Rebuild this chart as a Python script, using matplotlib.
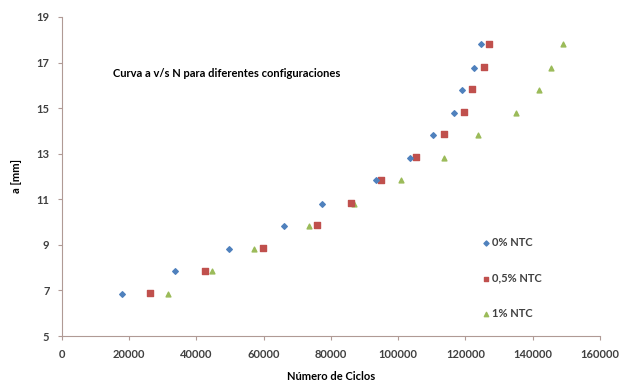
import matplotlib
matplotlib.use("Agg")
import matplotlib.pyplot as plt

plt.rcParams['font.family'] = ['Lato', 'DejaVu Sans']

a_levels = [6.85, 7.85, 8.83, 9.83, 10.8, 11.84, 12.82, 13.82, 14.8, 15.8, 16.77, 17.8]
a_red = [6.87, 7.87, 8.86, 9.86, 10.82, 11.86, 12.85, 13.85, 14.83, 15.83, 16.8, 17.83]

n_0 = [17800, 33700, 49800, 66000, 77300, 93400, 103600, 110400, 116700, 119100, 122700, 124800]
n_05 = [26300, 42700, 59700, 75800, 86000, 94900, 105400, 113700, 119700, 122100, 125700, 126900]
n_1 = [31600, 44500, 57000, 73400, 86900, 100900, 113700, 123900, 135200, 141800, 145400, 149000]

labels = ['0% NTC', '0,5% NTC', '1% NTC']
xticks = [0, 20000, 40000, 60000, 80000, 100000, 120000, 140000, 160000]
yticks = [5, 7, 9, 11, 13, 15, 17, 19]

fig = plt.figure(figsize=(6.19, 3.83), dpi=100)
ax = fig.add_axes([0.100, 0.1227, 0.869, 0.833])

ax.scatter(n_1, a_levels, marker='^', s=12, color='#9BBB59', label=labels[2], zorder=2)
ax.scatter(n_05, a_red, marker='s', s=14, color='#C0504D', label=labels[1], zorder=3)
ax.scatter(n_0, a_levels, marker='D', s=8, color='#4F81BD', label=labels[0], zorder=4)

ax.set_xlim(0, 160000)
ax.set_ylim(5, 19)
ax.set_xticks(xticks)
ax.set_yticks(yticks)
ax.set_xticklabels([str(t) for t in xticks], fontsize=8, fontweight='bold', color='#404040')
ax.set_yticklabels([str(t) for t in yticks], fontsize=8, fontweight='bold', color='#404040')
for s in ['top', 'right']:
    ax.spines[s].set_visible(False)
for s in ['left', 'bottom']:
    ax.spines[s].set_color('#B09A95')
    ax.spines[s].set_linewidth(0.8)
ax.tick_params(axis='both', length=3, color='#B09A95', pad=6)

ax.set_xlabel('Número de Ciclos', fontsize=8, fontweight='bold', labelpad=8)
ax.set_ylabel('a [mm]', fontsize=8, fontweight='bold', labelpad=10)

ax.text(0.095, 0.824, 'Curva a v/s N para diferentes configuraciones', transform=ax.transAxes,
        fontsize=8, fontweight='bold', ha='left', va='center')

handles, labs = ax.get_legend_handles_labels()
order = [2, 1, 0]
leg = ax.legend([handles[i] for i in order], [labs[i] for i in order],
                loc='center left', bbox_to_anchor=(0.759, 0.182), frameon=False,
                fontsize=8, labelspacing=2.2, handletextpad=0.1, markerscale=0.9,
                handlelength=1.0)
for t in leg.get_texts():
    t.set_color('#404040')
    t.set_fontweight('bold')

fig.savefig('out.png', dpi=100)
